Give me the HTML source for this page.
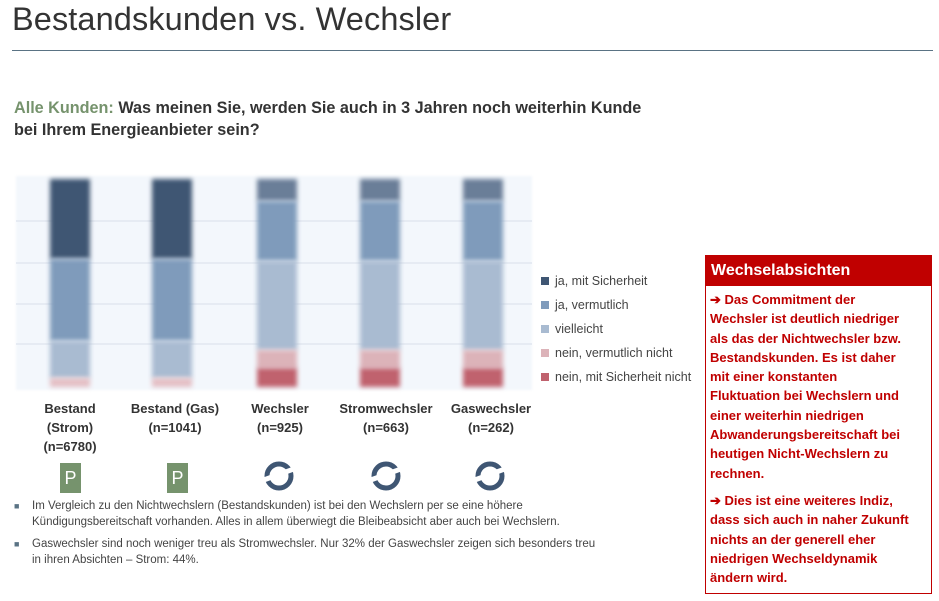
<!DOCTYPE html><html><head><style>
body{margin:0;width:939px;height:601px;background:#fff;font-family:"Liberation Sans",sans-serif;position:relative;overflow:hidden}
.a{position:absolute}
.t{left:12px;top:1px;font-size:32.5px;color:#333;letter-spacing:0.1px}
.bar{position:absolute;width:40px;filter:blur(2.5px)}
.lab{position:absolute;width:100px;text-align:center;font-weight:bold;font-size:13px;color:#333;line-height:19px}
.lg{position:absolute;left:541px;font-size:12.5px;color:#444}
.lg i{display:inline-block;width:8px;height:8px;margin-right:6px}
.P{position:absolute;width:21px;height:30px;background:#76936d;color:#fff;font-size:18px;text-align:center;line-height:30px;top:463px}
</style></head><body>
<div class="a t">Bestandskunden vs. Wechsler</div>
<div class="a" style="left:12px;top:50px;width:921px;height:1px;background:#5a7384"></div>
<div class="a" style="left:14px;top:97px;font-size:16.2px;font-weight:bold;color:#333;line-height:22px;white-space:nowrap">
<span style="color:#76936d">Alle Kunden:</span> Was meinen Sie, werden Sie auch in 3 Jahren noch weiterhin Kunde<br>bei Ihrem Energieanbieter sein?</div>
<div class="a" style="left:16px;top:176px;width:516px;height:214px;background:#f3f7fc;filter:blur(1px)"></div>
<div class="a" style="left:16px;top:220px;width:516px;height:2px;background:#e6ebf3"></div>
<div class="a" style="left:16px;top:262px;width:516px;height:2px;background:#e6ebf3"></div>
<div class="a" style="left:16px;top:303px;width:516px;height:2px;background:#e6ebf3"></div>
<div class="a" style="left:16px;top:343px;width:516px;height:2px;background:#e6ebf3"></div>
<div class="bar" style="left:50px;top:179px;height:80px;background:#3f5673"></div>
<div class="bar" style="left:50px;top:259px;height:82px;background:#7f9bbb"></div>
<div class="bar" style="left:50px;top:341px;height:37px;background:#a9bbd1"></div>
<div class="bar" style="left:50px;top:378px;height:9px;background:#e4bfc5"></div>
<div class="bar" style="left:152px;top:179px;height:80px;background:#3f5673"></div>
<div class="bar" style="left:152px;top:259px;height:82px;background:#7f9bbb"></div>
<div class="bar" style="left:152px;top:341px;height:37px;background:#a9bbd1"></div>
<div class="bar" style="left:152px;top:378px;height:9px;background:#e4bfc5"></div>
<div class="bar" style="left:257px;top:179px;height:22px;background:#6a7e98"></div>
<div class="bar" style="left:257px;top:201px;height:60px;background:#7f9bbb"></div>
<div class="bar" style="left:257px;top:261px;height:89px;background:#a9bbd1"></div>
<div class="bar" style="left:257px;top:350px;height:18px;background:#dcb3b9"></div>
<div class="bar" style="left:257px;top:368px;height:19px;background:#c0626e"></div>
<div class="bar" style="left:360px;top:179px;height:22px;background:#6a7e98"></div>
<div class="bar" style="left:360px;top:201px;height:60px;background:#7f9bbb"></div>
<div class="bar" style="left:360px;top:261px;height:89px;background:#a9bbd1"></div>
<div class="bar" style="left:360px;top:350px;height:18px;background:#dcb3b9"></div>
<div class="bar" style="left:360px;top:368px;height:19px;background:#c0626e"></div>
<div class="bar" style="left:463px;top:179px;height:22px;background:#6a7e98"></div>
<div class="bar" style="left:463px;top:201px;height:60px;background:#7f9bbb"></div>
<div class="bar" style="left:463px;top:261px;height:89px;background:#a9bbd1"></div>
<div class="bar" style="left:463px;top:350px;height:18px;background:#dcb3b9"></div>
<div class="bar" style="left:463px;top:368px;height:19px;background:#c0626e"></div>
<div class="lg" style="top:274px"><i style="background:#3f5673"></i>ja, mit Sicherheit</div>
<div class="lg" style="top:298px"><i style="background:#7f9bbb"></i>ja, vermutlich</div>
<div class="lg" style="top:322px"><i style="background:#a9bbd1"></i>vielleicht</div>
<div class="lg" style="top:346px"><i style="background:#dcb3b9"></i>nein, vermutlich nicht</div>
<div class="lg" style="top:370px"><i style="background:#c0626e"></i>nein, mit Sicherheit nicht</div>
<div class="lab" style="left:20px;top:399px">Bestand<br>(Strom)<br>(n=6780)</div>
<div class="lab" style="left:125px;top:399px">Bestand (Gas)<br>(n=1041)</div>
<div class="lab" style="left:230px;top:399px">Wechsler<br>(n=925)</div>
<div class="lab" style="left:336px;top:399px">Stromwechsler<br>(n=663)</div>
<div class="lab" style="left:441px;top:399px">Gaswechsler<br>(n=262)</div>
<div class="P" style="left:60px">P</div>
<div class="P" style="left:167px">P</div>
<svg class="a" style="left:0;top:458px" width="540" height="40">
<g fill="none" stroke="#3f5673" stroke-width="5">
<circle cx="279" cy="18" r="12"/><circle cx="386" cy="18" r="12"/><circle cx="490" cy="18" r="12"/></g>
<g fill="#fff"><rect x="264" y="14" width="30" height="5" transform="rotate(-20 279 18)"/><rect x="371" y="14" width="30" height="5" transform="rotate(-20 386 18)"/><rect x="475" y="14" width="30" height="5" transform="rotate(-20 490 18)"/></g>
</svg>
<div class="a" style="left:14px;top:498px;width:640px;font-size:11.5px;color:#444;line-height:16px;white-space:nowrap">
<div style="padding-left:18px;position:relative"><span style="position:absolute;left:0;top:0;color:#5a7384;font-size:9px">■</span>Im Vergleich zu den Nichtwechslern (Bestandskunden) ist bei den Wechslern per se eine höhere<br>Kündigungsbereitschaft vorhanden. Alles in allem überwiegt die Bleibeabsicht aber auch bei Wechslern.</div>
<div style="padding-left:18px;position:relative;margin-top:6px"><span style="position:absolute;left:0;top:0;color:#5a7384;font-size:9px">■</span>Gaswechsler sind noch weniger treu als Stromwechsler. Nur 32% der Gaswechsler zeigen sich besonders treu<br>in ihren Absichten – Strom: 44%.</div>
</div>
<div class="a" style="left:705px;top:255px;width:225px;height:337px;border:1px solid #c00000">
<div style="background:#c00000;color:#fff;font-weight:bold;font-size:16px;height:30px;line-height:30px;padding-left:5px">Wechselabsichten</div>
<div style="color:#c00000;font-weight:bold;font-size:13px;line-height:19.3px;padding:4px 2px 0 4px;white-space:nowrap">➔ Das Commitment der<br>Wechsler ist deutlich niedriger<br>als das der Nichtwechsler bzw.<br>Bestandskunden. Es ist daher<br>mit einer konstanten<br>Fluktuation bei Wechslern und<br>einer weiterhin niedrigen<br>Abwanderungsbereitschaft bei<br>heutigen Nicht-Wechslern zu<br>rechnen.<div style="height:8px"></div>➔ Dies ist eine weiteres Indiz,<br>dass sich auch in naher Zukunft<br>nichts an der generell eher<br>niedrigen Wechseldynamik<br>ändern wird.</div>
</div>
</body></html>
